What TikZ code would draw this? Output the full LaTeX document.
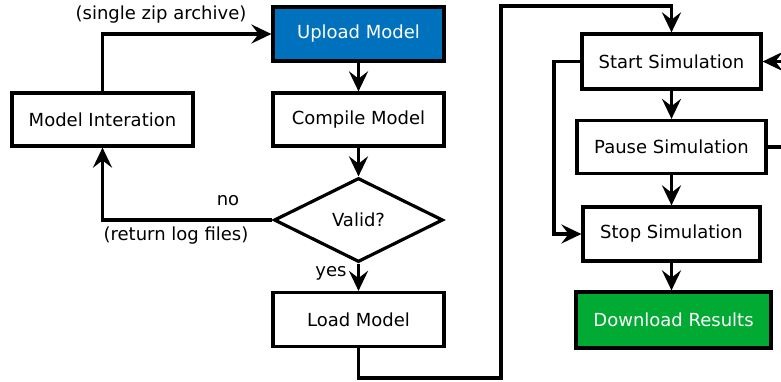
\documentclass[tikz,border=0pt]{standalone}
\usepackage{fontspec}
\setmainfont{DejaVu Sans}
\usetikzlibrary{arrows.meta,shapes.geometric}
\definecolor{uploadblue}{RGB}{0,113,189}
\definecolor{resultgreen}{RGB}{0,170,51}
\begin{document}
\begin{tikzpicture}[x=0.5pt,y=-0.5pt,
  every node/.style={font=\fontsize{9}{11}\selectfont},
  stepbox/.style={draw,line width=1.6pt,inner sep=0pt,fill=white},
  decision/.style={draw,line width=1.6pt,diamond,inner sep=0pt,
    minimum width=84.5pt,minimum height=42pt},
  conn/.style={line width=1.6pt},
  arr/.style={conn,-{Stealth[length=10pt,width=9.5pt,inset=3.6pt]}},
  lbl/.style={inner sep=0pt}]
\useasboundingbox (0,0) rectangle (781,381);
\clip (0,0) rectangle (781,381);

% left column: model handling
\node[stepbox,fill=uploadblue,text=white,minimum width=85.5pt,minimum height=27pt]
  (upload) at (358.5,34) {Upload Model};
\node[stepbox,minimum width=85.5pt,minimum height=26.5pt]
  (compile) at (358.5,119.5) {Compile Model};
\node[stepbox,minimum width=90.5pt,minimum height=26.5pt]
  (iter) at (102.5,119.5) {Model Interation};
\node[decision] (valid) at (358.5,220) {Valid?};
\node[stepbox,minimum width=85.5pt,minimum height=27pt]
  (load) at (358.5,319.5) {Load Model};

% right column: simulation control
\node[stepbox,minimum width=89.5pt,minimum height=27.5pt]
  (start) at (671.5,61.5) {Start Simulation};
\node[stepbox,minimum width=94.5pt,minimum height=26.5pt]
  (pause) at (671.5,147) {Pause Simulation};
\node[stepbox,minimum width=88.5pt,minimum height=27pt]
  (stop) at (671.5,234) {Stop Simulation};
\node[stepbox,fill=resultgreen,text=white,minimum width=97.5pt,minimum height=28pt]
  (download) at (673.5,320) {Download Results};

% route points
\coordinate (lowA) at (358.5,378);
\coordinate (lowB) at (501,378);
\coordinate (topB) at (501,6);
\coordinate (topC) at (671.5,6);
\coordinate (sideL) at (554,61.5);
\coordinate (edgeIn) at (782,61.5);
\coordinate (edgeOut) at (782,147);

% connectors
\draw[arr] (iter.north) |- (upload.west);
\draw[arr] (upload) -- (compile);
\draw[arr] (compile) -- (valid);
\draw[arr] (valid.west) -| (iter.south);
\draw[arr] (valid) -- (load);
\draw[arr] (load.south) -- (lowA) -- (lowB) -- (topB) -- (topC) -- (start.north);
\draw[arr] (start) -- (pause);
\draw[arr] (pause) -- (stop);
\draw[arr] (stop.south) -- (stop.south |- download.north);
\draw[arr] (start.west) -- (sideL) |- (stop.west);
\draw[arr] (edgeIn) -- (start.east);
\draw[conn] (pause.east) -- (edgeOut);

% labels
\node[lbl] (zipLbl) at (161,15) {(single zip archive)};
\node[lbl] (noLbl) at (228,201) {no};
\node[lbl] (logLbl) at (176,236) {(return log files)};
\node[lbl] (yesLbl) at (331,273) {yes};
\end{tikzpicture}
\end{document}
